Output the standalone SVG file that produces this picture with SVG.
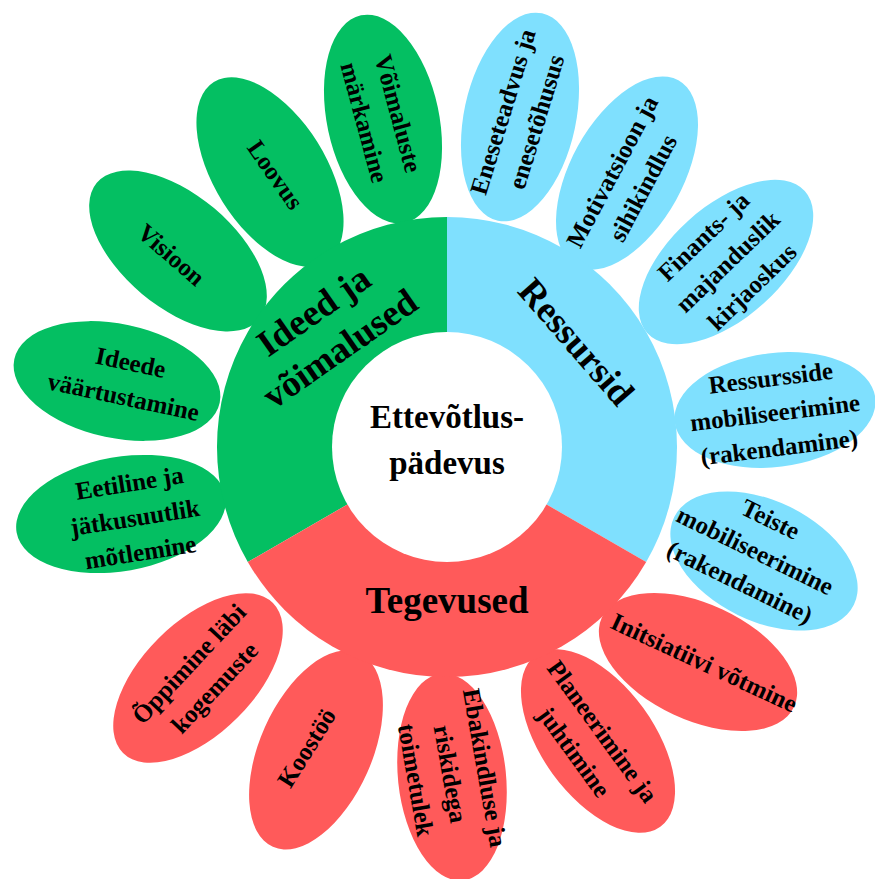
<svg xmlns="http://www.w3.org/2000/svg" width="875" height="879" viewBox="0 0 875 879">
<style>
.g{fill:#04BF62}.b{fill:#7FE0FE}.r{fill:#FF5A5A}
text{font-family:"Liberation Serif","Times New Roman",serif;font-weight:bold;fill:#000;text-anchor:middle}
.p{font-size:25px}.s{font-size:37px}.c{font-size:33px}
</style>
<rect width="875" height="879" fill="#fff"/>
<g id="petals">
<g id="p-voimaluste"><ellipse class="g" cx="383" cy="119" rx="106" ry="56" transform="rotate(78 383 119)"/><g transform="translate(381,118) rotate(75)"><text class="p" y="-9.5">Võimaluste</text><text class="p" y="25.5">märkamine</text></g></g>
<g id="p-loovus"><ellipse class="g" cx="270" cy="172" rx="106" ry="56" transform="rotate(58 270 172)"/><g transform="translate(275,175) rotate(55)"><text class="p" y="8">Loovus</text></g></g>
<g id="p-visioon"><ellipse class="g" cx="178" cy="251" rx="106" ry="56" transform="rotate(40 178 251)"/><g transform="translate(171,255) rotate(41)"><text class="p" y="8">Visioon</text></g></g>
<g id="p-ideede"><ellipse class="g" cx="117" cy="381" rx="105" ry="57" transform="rotate(12 117 381)"/><g transform="translate(127,380) rotate(12)"><text class="p" y="-9.5">Ideede</text><text class="p" y="25.5">väärtustamine</text></g></g>
<g id="p-eetiline"><ellipse class="g" cx="121" cy="514" rx="106" ry="57" transform="rotate(-10 121 514)"/><g transform="translate(135,518) rotate(-9)"><text class="p" y="-27">Eetiline ja</text><text class="p" y="8">jätkusuutlik</text><text class="p" y="43">mõtlemine</text></g></g>
<g id="p-eneseteadvus"><ellipse class="b" cx="520" cy="117" rx="106" ry="56" transform="rotate(-78 520 117)"/><g transform="translate(520,117) rotate(-73)"><text class="p" y="-9.5">Eneseteadvus ja</text><text class="p" y="25.5">enesetõhusus</text></g></g>
<g id="p-motivatsioon"><ellipse class="b" cx="627" cy="173" rx="106" ry="56" transform="rotate(-61 627 173)"/><g transform="translate(628,180) rotate(-62)"><text class="p" y="-9.5">Motivatsioon ja</text><text class="p" y="25.5">sihikindlus</text></g></g>
<g id="p-finants"><ellipse class="b" cx="726" cy="262" rx="106" ry="56" transform="rotate(-42 726 262)"/><g transform="translate(728,262) rotate(-44)"><text class="p" y="-27">Finants- ja</text><text class="p" y="8">majanduslik</text><text class="p" y="43">kirjaoskus</text></g></g>
<g id="p-ressursside"><ellipse class="b" cx="775" cy="410" rx="101" ry="57" transform="rotate(-7 775 410)"/><g transform="translate(775,413) rotate(-7)"><text class="p" y="-27">Ressursside</text><text class="p" y="8">mobiliseerimine</text><text class="p" y="43">(rakendamine)</text></g></g>
<g id="p-teiste"><ellipse class="b" cx="764" cy="561" rx="100" ry="60" transform="rotate(26 764 561)"/><g transform="translate(755,551) rotate(26)"><text class="p" y="-27">Teiste</text><text class="p" y="8">mobiliseerimine</text><text class="p" y="43">(rakendamine)</text></g></g>
<g id="p-initsiatiivi"><ellipse class="r" cx="698" cy="662" rx="106" ry="58" transform="rotate(25 698 662)"/><g transform="translate(704,663) rotate(25)"><text class="p" y="8">Initsiatiivi võtmine</text></g></g>
<g id="p-planeerimine"><ellipse class="r" cx="598" cy="741" rx="106" ry="56" transform="rotate(54 598 741)"/><g transform="translate(588,742) rotate(54)"><text class="p" y="-9.5">Planeerimine ja</text><text class="p" y="25.5">juhtimine</text></g></g>
<g id="p-ebakindluse"><ellipse class="r" cx="452" cy="777" rx="104" ry="54" transform="rotate(84 452 777)"/><g transform="translate(450,774) rotate(80)"><text class="p" y="-27">Ebakindluse ja</text><text class="p" y="8">riskidega</text><text class="p" y="43">toimetulek</text></g></g>
<g id="p-koostoo"><ellipse class="r" cx="316" cy="750" rx="106" ry="56" transform="rotate(-66 316 750)"/><g transform="translate(307,748) rotate(-58)"><text class="p" y="8">Koostöö</text></g></g>
<g id="p-oppimine"><ellipse class="r" cx="198" cy="678" rx="106" ry="56" transform="rotate(-45 198 678)"/><g transform="translate(202,676) rotate(-47)"><text class="p" y="-9.5">Õppimine läbi</text><text class="p" y="25.5">kogemuste</text></g></g>
</g>
<g id="ring">
<g id="s-ideed"><path class="g" d="M447,447 L247.81,562 A230,230 0 0 1 447,217 Z"/></g>
<g id="s-ressursid"><path class="b" d="M447,447 L447,217 A230,230 0 0 1 646.19,562 Z"/></g>
<g id="s-tegevused"><path class="r" d="M447,447 L646.19,562 A230,230 0 0 1 247.81,562 Z"/></g>
</g>
<g id="center"><circle cx="447" cy="447" r="115" fill="#fff"/><text class="c" x="447" y="428">Ettevõtlus-</text><text class="c" x="447" y="474">pädevus</text></g>
<g id="labels">
<g transform="translate(327,330) rotate(-35)"><text class="s" y="-11">Ideed ja</text><text class="s" y="35">võimalused</text></g>
<g transform="translate(576,342) rotate(49)"><text class="s" y="12">Ressursid</text></g>
<text class="s" x="447" y="613">Tegevused</text>
</g>
</svg>
